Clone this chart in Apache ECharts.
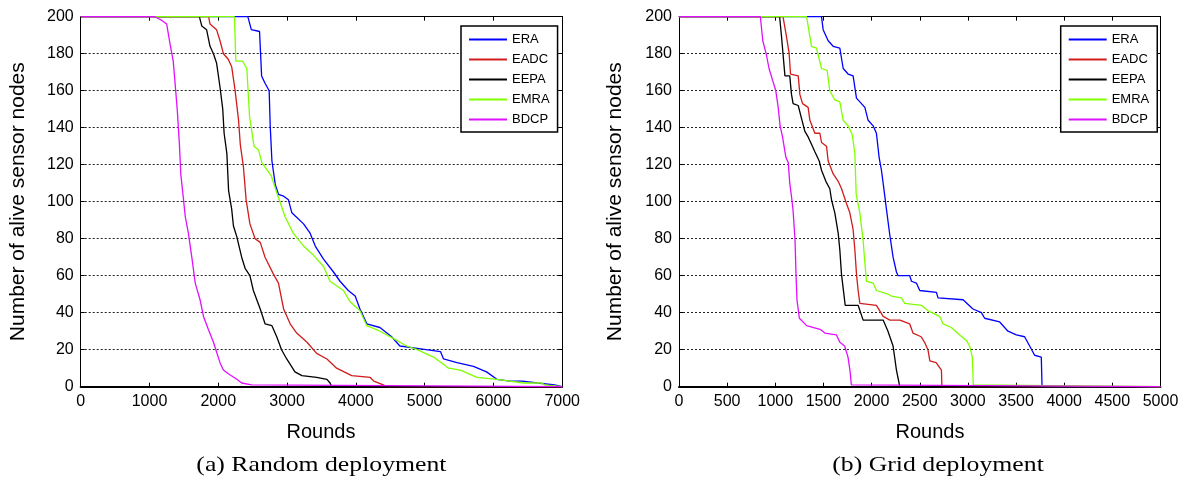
<!DOCTYPE html>
<html>
<head>
<meta charset="utf-8">
<script src="https://cdn.jsdelivr.net/npm/echarts@6/dist/echarts.min.js"></script>
<style>
  html, body { margin: 0; padding: 0; background: #fff; }
  #chart { width: 1196px; height: 482px; }
</style>
</head>
<body>
<div id="chart"></div>
<script>
// Protocol names and line colours (same order in both panels)
const protocols = ['ERA', 'EADC', 'EEPA', 'EMRA', 'BDCP'];
const protocolColors = ['#0000ff', '#d01c1c', '#000000', '#80ff00', '#e010ff'];

// Axis ranges and ticks
const yTicksMax = 200, yTickStep = 20;
const randomRoundsMax = 7000, randomRoundStep = 1000;
const gridRoundsMax = 5000, gridRoundStep = 500;

// (a) Random deployment: [round, alive sensor nodes]
const randomERA = [[0,200],[2430,200],[2480,193],[2600,192],[2630,168],[2680,164],[2740,160],[2755,141],[2780,122],[2830,109],[2875,104],[2950,103],[3020,101],[3070,94],[3240,88],[3335,83],[3410,76],[3530,69],[3675,62],[3770,57],[3890,52],[3990,49],[4060,42],[4160,34],[4350,32],[4520,27],[4640,22],[4840,21],[5230,19],[5275,15],[5470,13],[5710,11],[5900,8],[6050,4],[6240,3],[6420,3],[6440,2],[6640,2],[6660,1],[6890,1],[6900,0],[7000,0]];
const randomEADC = [[0,200],[1860,200],[1880,196],[1975,193],[2025,187],[2075,180],[2145,177],[2195,173],[2245,160],[2295,144],[2320,131],[2365,119],[2405,101],[2460,88],[2535,80],[2610,78],[2680,70],[2800,61],[2875,56],[2950,42],[3045,34],[3140,29],[3290,24],[3430,18],[3580,15],[3720,10],[3940,6],[4210,5],[4260,3],[4400,1],[4450,0],[7000,0]];
const randomEEPA = [[0,200],[1725,200],[1760,195],[1830,193],[1880,184],[1930,180],[1975,175],[2025,162],[2065,150],[2085,137],[2125,126],[2150,106],[2195,96],[2220,87],[2270,81],[2340,70],[2390,64],[2460,60],[2510,52],[2610,42],[2680,34],[2780,33],[2850,27],[2920,20],[2995,15],[3115,8],[3215,6],[3430,5],[3580,4],[3625,2],[3650,0],[7000,0]];
const randomEMRA = [[0,200],[2235,200],[2255,176],[2355,176],[2415,172],[2455,146],[2520,130],[2585,128],[2635,121],[2770,114],[2850,105],[2970,92],[3090,83],[3240,76],[3385,71],[3530,65],[3625,57],[3820,52],[3915,46],[4060,41],[4160,33],[4350,30],[4550,26],[4740,22],[4890,20],[5130,16],[5350,10],[5520,9],[5760,5],[6050,4],[6440,2],[6700,2],[6720,1],[6745,1],[6750,0],[7000,0]];
const randomBDCP = [[0,200],[1080,200],[1180,198],[1250,196],[1300,185],[1345,176],[1370,165],[1405,149],[1435,131],[1455,115],[1495,101],[1520,92],[1565,83],[1615,70],[1665,56],[1735,47],[1785,38],[1855,31],[1930,24],[2025,13],[2075,9],[2145,7],[2270,4],[2340,2],[2485,1],[2510,0],[7000,0]];

// (b) Grid deployment: [round, alive sensor nodes]
const gridERA = [[0,200],[1480,200],[1497,193],[1549,187],[1601,184],[1670,183],[1705,172],[1756,169],[1808,168],[1843,156],[1930,151],[1964,144],[2016,141],[2050,137],[2078,124],[2102,117],[2120,110],[2137,103],[2154,96],[2189,82],[2223,70],[2258,62],[2275,60],[2396,60],[2414,57],[2465,56],[2500,52],[2673,51],[2690,48],[2950,47],[3053,42],[3140,40],[3174,37],[3330,35],[3416,30],[3503,28],[3589,27],[3641,22],[3693,17],[3762,16],[3770,0],[5000,0]];
const gridEADC = [[0,200],[1080,200],[1117,189],[1144,180],[1158,169],[1238,168],[1255,158],[1283,153],[1341,151],[1359,144],[1411,137],[1463,137],[1480,132],[1532,130],[1549,122],[1601,115],[1653,111],[1688,107],[1705,106],[1739,99],[1774,94],[1808,85],[1826,74],[1843,61],[1860,52],[1878,45],[1880,44],[2050,44],[2085,41],[2120,38],[2190,36],[2295,36],[2395,34],[2430,29],[2515,27],[2550,24],[2585,20],[2605,14],[2670,13],[2725,9],[2730,0],[5000,0]];
const gridEEPA = [[0,200],[1045,200],[1065,189],[1080,180],[1100,168],[1150,168],[1168,158],[1185,153],[1238,152],[1272,145],[1307,138],[1341,135],[1376,131],[1411,127],[1456,122],[1480,117],[1525,111],[1566,107],[1584,101],[1618,94],[1653,83],[1670,74],[1687,61],[1712,50],[1726,44],[1860,44],[1912,36],[2120,36],[2170,30],[2223,22],[2258,9],[2285,2],[2292,0],[5000,0]];
const gridEMRA = [[0,200],[1325,200],[1360,189],[1376,184],[1428,183],[1480,172],[1538,171],[1566,160],[1618,155],[1670,154],[1705,144],[1756,141],[1800,136],[1826,126],[1840,104],[1878,94],[1912,79],[1930,67],[1947,57],[2016,56],[2050,52],[2171,50],[2206,49],[2310,48],[2344,45],[2517,44],[2586,41],[2707,38],[2742,34],[2828,32],[2915,28],[2984,25],[3018,22],[3046,16],[3056,1],[3060,0],[5000,0]];
const gridBDCP = [[0,200],[845,200],[870,187],[905,180],[935,172],[970,166],[1005,160],[1030,151],[1050,141],[1075,135],[1110,124],[1135,121],[1150,110],[1170,102],[1185,95],[1205,79],[1215,61],[1225,47],[1250,37],[1325,33],[1465,31],[1515,29],[1635,28],[1670,24],[1720,22],[1755,16],[1775,9],[1790,1],[1800,0],[5000,0]];

const randomSets = [randomERA, randomEADC, randomEEPA, randomEMRA, randomBDCP];
const gridSets = [gridERA, gridEADC, gridEEPA, gridEMRA, gridBDCP];

const SANS = '"Liberation Sans", Arial, sans-serif';
const SERIF = '"Liberation Serif", "Times New Roman", serif';

const panels = [
  { left: 80.7, max: randomRoundsMax, step: randomRoundStep },
  { left: 679, max: gridRoundsMax, step: gridRoundStep }
];
const plotTop = 16.7, plotHeight = 370, plotWidth = 481.5;

const grids = panels.map(p => ({ left: p.left, top: plotTop, width: plotWidth, height: plotHeight, containLabel: false }));

const tick = { show: true, inside: true, length: 4, lineStyle: { color: '#000', width: 1 } };
const plainNumber = v => String(v);

const xAxes = [], yAxes = [];
panels.forEach((p, gi) => {
  xAxes.push({
    type: 'value', gridIndex: gi, min: 0, max: p.max, interval: p.step, position: 'bottom',
    axisLine: { show: true, onZero: false, lineStyle: { color: '#000', width: 2 } },
    axisTick: tick,
    axisLabel: { color: '#000', fontSize: 16, fontFamily: SANS, margin: 7, formatter: plainNumber },
    splitLine: { show: false }
  });
  xAxes.push({
    type: 'value', gridIndex: gi, min: 0, max: p.max, interval: p.step, position: 'top',
    axisLine: { show: true, onZero: false, lineStyle: { color: '#000', width: 1 } },
    axisTick: tick, axisLabel: { show: false }, splitLine: { show: false }
  });
  yAxes.push({
    type: 'value', gridIndex: gi, min: 0, max: yTicksMax, interval: yTickStep, position: 'left',
    axisLine: { show: true, onZero: false, lineStyle: { color: '#000', width: 1 } },
    axisTick: tick,
    axisLabel: { color: '#000', fontSize: 16, fontFamily: SANS, margin: 7, formatter: plainNumber },
    splitLine: { show: true, lineStyle: { color: '#222', width: 1, type: [2, 2] } }
  });
  yAxes.push({
    type: 'value', gridIndex: gi, min: 0, max: yTicksMax, interval: yTickStep, position: 'right',
    axisLine: { show: true, onZero: false, lineStyle: { color: '#000', width: 1 } },
    axisTick: tick, axisLabel: { show: false }, splitLine: { show: false }
  });
});

const series = [];
[randomSets, gridSets].forEach((sets, pi) => {
  sets.forEach((data, i) => {
    series.push({
      type: 'line', name: protocols[i], data: data,
      xAxisIndex: pi * 2, yAxisIndex: pi * 2,
      symbol: 'none', clip: false, silent: true,
      lineStyle: { color: protocolColors[i], width: 1.3 },
      itemStyle: { color: protocolColors[i] }
    });
  });
});

// Legend entries drawn as short line samples
const legendBase = {
  data: protocols, orient: 'vertical', top: 26,
  icon: 'path://M0,0H38V2H0Z',
  padding: [7, 8, 6, 8], itemWidth: 38, itemHeight: 14, itemGap: 7,
  backgroundColor: '#fff', borderColor: '#000', borderWidth: 1.5, borderRadius: 0,
  selectedMode: false,
  textStyle: { fontSize: 13, fontFamily: SANS, color: '#000' }
};
const legends = [
  Object.assign({}, legendBase, { left: 461 }),
  Object.assign({}, legendBase, { left: 1060.7 })
];

const textEl = (x, y, text, font, rotation, scaleX) => ({
  type: 'text', x: x, y: y, rotation: rotation || 0, scaleX: scaleX || 1,
  style: { text: text, font: font, fill: '#000', align: 'center', verticalAlign: 'middle' }
});

const graphic = [
  textEl(18, 201.7, 'Number of alive sensor nodes', '21px ' + SANS, Math.PI / 2),
  textEl(615, 201.7, 'Number of alive sensor nodes', '21px ' + SANS, Math.PI / 2),
  textEl(321, 432, 'Rounds', '20px ' + SANS),
  textEl(930, 432, 'Rounds', '20px ' + SANS),
  textEl(321.4, 465.5, '(a) Random deployment', '22px ' + SERIF, 0, 1.17),
  textEl(938, 465.5, '(b) Grid deployment', '22px ' + SERIF, 0, 1.17)
];

const chart = echarts.init(document.getElementById('chart'));
chart.setOption({
  backgroundColor: '#fff',
  animation: false,
  grid: grids,
  xAxis: xAxes,
  yAxis: yAxes,
  legend: legends,
  series: series,
  graphic: graphic
});
</script>
</body>
</html>
